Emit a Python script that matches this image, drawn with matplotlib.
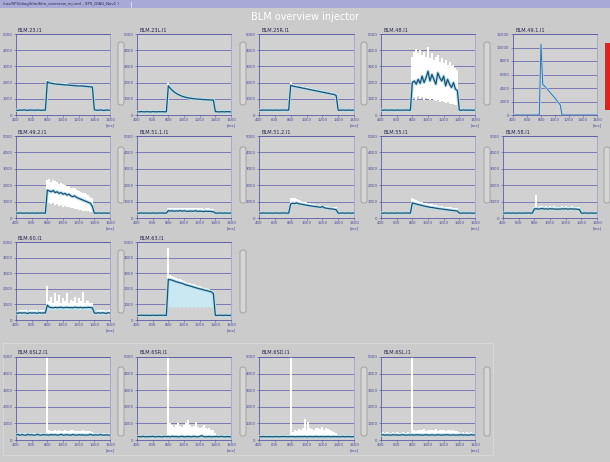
import matplotlib
matplotlib.use('Agg')
import matplotlib.pyplot as plt
from matplotlib.patches import FancyBboxPatch, Rectangle

# ---------------- data ----------------
TIME_MS = list(range(400, 1601, 25))          # sample times (49 points)
X_TICKS = [400, 600, 800, 1000, 1200, 1400, 1600]
Y_TICKS = [0, 1000, 2000, 3000, 4000, 5000]
Y_TICKS_BIG = [0, 2000, 4000, 6000, 8000, 10000, 12000]

PRE_300 = [300, 290, 310, 300, 295, 305, 300, 290, 310, 300, 295, 305, 300, 310, 295, 300]
POST_300 = [300, 290, 310, 300, 295, 305, 300, 290, 310]
PRE_380 = [380, 370, 390, 380, 375, 385, 380, 370, 390, 380, 375, 385, 380, 390, 375, 380]
POST_380 = [380, 370, 390, 380, 375, 385, 380, 370, 390]
PRE_250 = [250, 260, 240, 250, 255, 245, 250, 260, 240, 250, 255, 245, 250, 260, 240, 250]
POST_250 = [250, 260, 240, 250, 255, 245, 250, 260, 240]

MEAN_23 = [300, 280, 310, 290, 320, 300, 285, 310, 295, 305, 290, 315, 300, 285, 305, 300] + \
    [2050, 1980, 1960, 1930, 1920, 1900, 1890, 1880, 1870, 1850, 1860, 1840, 1830, 1820, 1810,
     1800, 1790, 1800, 1780, 1770, 1760, 1750, 1740, 1730] + [320, 300, 290, 310, 300, 280, 310, 300, 290]
HI_23 = [380, 360, 390, 370, 400, 380, 370, 390, 375, 385, 370, 395, 380, 365, 385, 380] + \
    [2150, 2080, 2060, 2030, 2020, 2000, 1990, 1980, 1970, 1950, 1960, 1940, 1930, 1920, 1910,
     1900, 1890, 1900, 1880, 1870, 1860, 1850, 1840, 1830] + [400, 380, 370, 390, 380, 360, 390, 380, 370]

MEAN_23L = [200, 190, 210, 200, 195, 205, 200, 190, 210, 200, 195, 205, 200, 210, 195, 200] + \
    [1800, 1650, 1520, 1420, 1340, 1270, 1210, 1160, 1120, 1090, 1060, 1040, 1020, 1000, 990,
     980, 970, 960, 950, 950, 940, 930, 930, 920] + [210, 200, 190, 205, 200, 195, 210, 200, 195]
HI_23L = [270, 260, 280, 270, 265, 275, 270, 260, 280, 270, 265, 275, 270, 280, 265, 270] + \
    [1950, 1760, 1610, 1500, 1420, 1350, 1290, 1240, 1200, 1170, 1140, 1120, 1100, 1080, 1070,
     1060, 1050, 1040, 1030, 1030, 1020, 1010, 1010, 1000] + [280, 270, 260, 275, 270, 265, 280, 270, 265]

MEAN_25R = PRE_300 + \
    [1830, 1790, 1760, 1740, 1710, 1690, 1660, 1640, 1610, 1590, 1560, 1540, 1510, 1490, 1460,
     1440, 1410, 1390, 1360, 1340, 1310, 1290, 1260, 1200] + POST_300
HI_25R = PRE_380 + \
    [2050, 1900, 1870, 1850, 1820, 1800, 1770, 1750, 1720, 1700, 1670, 1650, 1620, 1600, 1570,
     1550, 1520, 1500, 1470, 1450, 1420, 1400, 1370, 1300] + POST_380

MEAN_48 = PRE_300 + \
    [2000, 2100, 1900, 2200, 1950, 2400, 2000, 2300, 2700, 2100, 2500, 2200, 1900, 2600, 2300,
     2100, 2400, 1800, 2200, 1900, 1700, 2000, 1600, 1500] + POST_300
HI_48 = PRE_380 + \
    [3600, 3900, 4100, 3800, 4000, 3700, 3900, 3600, 4200, 3500, 3800, 3400, 3600, 3700, 3300,
     3500, 3200, 3400, 3100, 3300, 3000, 3100, 2900, 2800] + POST_380
LO_48 = PRE_250 + \
    [1000, 1100, 900, 1200, 1000, 1100, 950, 1050, 1000, 900, 1000, 950, 850, 900, 800,
     850, 800, 750, 800, 700, 650, 700, 600, 600] + POST_250

MEAN_491 = [0, 0, 0, 0, 0, 0, 0, 0, 0, 0, 0, 0, 0, 0, 0, 0] + [10500] + \
    [4500, 4300, 4000, 3700, 3400, 3100, 2800, 2500, 2150, 1800, 1500] + [0] + \
    [0, 0, 0, 0, 0, 0, 0, 0, 0, 0, 0, 0, 0, 0, 0, 0, 0, 0, 0, 0]

MEAN_492 = PRE_300 + \
    [1700, 1650, 1600, 1680, 1550, 1600, 1500, 1550, 1450, 1500, 1400, 1450, 1350, 1300, 1350,
     1250, 1200, 1150, 1100, 1050, 1000, 950, 900, 700] + POST_300
HI_492 = PRE_380 + \
    [2300, 2400, 2200, 2300, 2250, 2200, 2100, 2150, 2050, 2000, 1950, 1950, 1850, 1800, 1800,
     1700, 1650, 1600, 1550, 1500, 1450, 1400, 1300, 1200] + POST_380
LO_492 = PRE_250 + \
    [900, 900, 850, 900, 800, 850, 750, 800, 700, 750, 650, 700, 600, 600, 550,
     550, 500, 500, 450, 450, 400, 400, 350, 350] + POST_250

MEAN_511 = PRE_300 + \
    [450, 420, 440, 410, 430, 420, 450, 410, 440, 420, 400, 430, 410, 420, 440,
     400, 420, 410, 390, 420, 400, 410, 390, 380] + POST_300
HI_511 = PRE_380 + \
    [620, 600, 640, 580, 620, 600, 630, 590, 610, 600, 580, 610, 590, 600, 620,
     580, 600, 590, 570, 600, 580, 590, 570, 560] + POST_380

MEAN_512 = PRE_300 + \
    [850, 900, 880, 920, 870, 850, 830, 800, 780, 760, 740, 720, 700, 690, 670,
     650, 700, 620, 600, 580, 560, 550, 530, 500] + POST_300
HI_512 = PRE_380 + \
    [1250, 1250, 1200, 1150, 1100, 1050, 1000, 950, 950, 900, 900, 850, 850, 800, 800,
     780, 800, 760, 740, 720, 700, 690, 680, 650] + POST_380

MEAN_55 = PRE_300 + \
    [920, 880, 850, 820, 790, 760, 730, 700, 680, 650, 640, 620, 600, 580, 560,
     550, 530, 510, 500, 480, 470, 450, 440, 420] + POST_300
HI_55 = PRE_380 + \
    [1200, 1150, 1100, 1050, 1000, 950, 920, 900, 880, 850, 830, 800, 780, 760, 740,
     720, 700, 690, 680, 660, 650, 640, 620, 600] + POST_380

MEAN_58 = PRE_300 + \
    [550, 570, 540, 560, 580, 550, 560, 540, 570, 550, 560, 530, 550, 540, 560,
     550, 570, 540, 550, 560, 540, 550, 530, 520] + POST_300
HI_58 = PRE_380 + \
    [700, 1400, 690, 740, 730, 700, 710, 690, 720, 700, 710, 680, 700, 690, 710,
     700, 720, 690, 700, 710, 690, 700, 680, 670] + POST_380

MEAN_60 = [450, 430, 470, 440, 460, 450, 420, 470, 440, 460, 450, 430, 470, 440, 460, 450] + \
    [950, 820, 800, 780, 810, 790, 800, 820, 780, 800, 810, 790, 800, 780, 820,
     800, 790, 810, 780, 800, 790, 810, 800, 780] + [450, 430, 470, 440, 460, 450, 420, 470, 440]
HI_60 = [620, 600, 640, 610, 630, 620, 600, 640, 610, 630, 620, 600, 640, 610, 630, 620] + \
    [2200, 1200, 1500, 1100, 1700, 1200, 1600, 1100, 1400, 1200, 1700, 1100, 1300, 1200, 1500,
     1100, 1400, 1200, 1800, 1100, 1300, 1200, 1100, 1100] + [620, 600, 640, 610, 630, 620, 600, 640, 610]
LO_60 = [340, 330, 350, 340, 345, 335, 340, 350, 330, 340, 345, 335, 340, 350, 330, 340] + \
    [650, 660, 640, 650, 655, 645, 650, 660, 640, 650, 655, 645, 650, 660, 640,
     650, 655, 645, 650, 660, 640, 650, 655, 645] + [340, 330, 350, 340, 345, 335, 340, 350, 330]

MEAN_63 = PRE_300 + \
    [2600, 2580, 2550, 2500, 2450, 2420, 2380, 2350, 2300, 2250, 2220, 2180, 2150, 2100, 2070,
     2030, 2000, 1970, 1930, 1900, 1870, 1830, 1800, 1700] + POST_300
HI_63 = PRE_380 + \
    [4600, 2900, 2800, 2750, 2700, 2650, 2600, 2550, 2500, 2450, 2400, 2360, 2320, 2280, 2240,
     2200, 2160, 2120, 2080, 2040, 2000, 1960, 1920, 1850] + POST_380
LO_63 = PRE_250 + \
    [800, 850, 800, 850, 800, 850, 800, 850, 800, 850, 800, 850, 800, 850, 800,
     850, 800, 850, 800, 850, 800, 850, 800, 850] + POST_250

MEAN_6SL2 = [300, 340, 280, 330, 300, 290, 340, 300, 320, 290, 300, 340, 300, 290, 330, 300] + \
    [310, 290, 330, 300, 320, 290, 300, 340, 290, 300, 320, 300, 290, 330, 300,
     290, 320, 300, 310, 290, 300, 300, 340, 290] + [300, 310, 290, 330, 300, 290, 310, 300, 290]
HI_6SL2 = [430, 450, 420, 440, 430, 420, 450, 430, 440, 420, 430, 450, 430, 420, 440, 430] + \
    [5000, 600, 520, 560, 620, 540, 580, 520, 560, 600, 540, 520, 580, 600, 550,
     520, 560, 540, 580, 540, 520, 550, 520, 500] + [440, 430, 450, 420, 440, 430, 450, 420, 430]

MEAN_6SR = [200, 210, 190, 220, 200, 190, 210, 200, 220, 190, 200, 210, 200, 190, 220, 200] + \
    [210, 190, 220, 200, 210, 190, 200, 220, 190, 200, 210, 200, 190, 220, 200,
     190, 210, 260, 200, 190, 200, 210, 190, 200] + [200, 210, 190, 220, 200, 190, 210, 200, 190]
HI_6SR = [280, 290, 270, 300, 280, 270, 290, 280, 300, 270, 280, 290, 280, 270, 300, 280] + \
    [5000, 1000, 900, 800, 900, 1000, 850, 800, 900, 1000, 1200, 900, 800, 850, 1100,
     800, 750, 800, 900, 700, 650, 700, 600, 600] + [400, 320, 300, 330, 310, 290, 310, 300, 290]

MEAN_6SD = [200, 190, 210, 200, 195, 205, 200, 190, 210, 200, 195, 205, 200, 210, 195, 200] + \
    [200, 210, 190, 200, 205, 195, 200, 210, 190, 200, 205, 195, 200, 210, 190,
     200, 205, 195, 200, 210, 190, 200, 205, 195] + [200, 190, 210, 200, 195, 205, 200, 190, 210]
HI_6SD = [280, 270, 290, 280, 275, 285, 280, 270, 290, 280, 275, 285, 280, 290, 275, 280] + \
    [5000, 500, 600, 550, 650, 600, 700, 1250, 600, 1100, 700, 650, 600, 750, 700,
     650, 800, 600, 700, 650, 600, 550, 500, 450] + [300, 290, 310, 300, 295, 305, 300, 290, 310]

MEAN_6SL = [300, 320, 290, 310, 300, 290, 320, 300, 310, 290, 300, 320, 300, 290, 310, 300] + \
    [310, 290, 320, 300, 310, 290, 300, 320, 290, 300, 310, 300, 290, 320, 300,
     290, 310, 300, 320, 290, 300, 310, 290, 300] + [300, 320, 290, 310, 300, 290, 320, 300, 310]
HI_6SL = [450, 470, 440, 460, 450, 440, 470, 450, 460, 440, 450, 470, 450, 440, 460, 450] + \
    [5000, 600, 550, 620, 580, 600, 650, 560, 600, 620, 580, 600, 640, 560, 600,
     580, 620, 560, 600, 580, 560, 600, 550, 520] + [460, 450, 470, 440, 460, 450, 470, 440, 450]

# name, row, col, mean, hi, lo, lower fill colour
PANELS = [
    ("BLM.23.I1", 0, 0, MEAN_23, HI_23, None, None),
    ("BLM.23L.I1", 0, 1, MEAN_23L, HI_23L, None, None),
    ("BLM.25R.I1", 0, 2, MEAN_25R, HI_25R, None, None),
    ("BLM.48.I1", 0, 3, MEAN_48, HI_48, LO_48, "white"),
    ("BLM.49.1.I1", 0, 4, MEAN_491, None, None, None),
    ("BLM.49.2.I1", 1, 0, MEAN_492, HI_492, LO_492, "white"),
    ("BLM.51.1.I1", 1, 1, MEAN_511, HI_511, None, None),
    ("BLM.51.2.I1", 1, 2, MEAN_512, HI_512, None, None),
    ("BLM.55.I1", 1, 3, MEAN_55, HI_55, None, None),
    ("BLM.58.I1", 1, 4, MEAN_58, HI_58, None, None),
    ("BLM.60.I1", 2, 0, MEAN_60, HI_60, LO_60, "#c6e6f0"),
    ("BLM.63.I1", 2, 1, MEAN_63, HI_63, LO_63, "#cae8f1"),
    ("BLM.6SL2.I1", 3, 0, MEAN_6SL2, HI_6SL2, None, None),
    ("BLM.6SR.I1", 3, 1, MEAN_6SR, HI_6SR, None, None),
    ("BLM.6SD.I1", 3, 2, MEAN_6SD, HI_6SD, None, None),
    ("BLM.6SL.I1", 3, 3, MEAN_6SL, HI_6SL, None, None),
]

# ---------------- layout (pixels) ----------------
W, H = 610, 462
COL_X = [(16, 110), (137, 231), (259, 354), (381, 475), (503, 597)]
ROW_Y = [(34, 115), (136, 218), (242, 320), (357, 440)]
GAUGE_X = [118, 240, 361, 484, 604]
GAUGE_Y = [(42, 105), (147, 203), (250, 313), (367, 436)]

BG = '#cbcbcb'
AX_BG = '#d1d1d1'
PURPLE = '#7a79b6'
TICK_C = '#4b4a9c'

fig = plt.figure(figsize=(W / 100, H / 100), dpi=100)
fig.patch.set_facecolor(BG)

ov = fig.add_axes([0, 0, 1, 1], zorder=0)
ov.set_xlim(0, W)
ov.set_ylim(H, 0)
ov.axis('off')

# window/title bar
ov.add_patch(Rectangle((0, 0), W, 8, facecolor='#a8aad6', edgecolor='none'))
ov.text(3, 4.2, "/usr/SPS/diag/blm/blm_overview_inj.xml - SPS_DIAG_Nav1 )", fontsize=2.8,
        color='#2a2a4a', va='center', ha='left')
ov.plot([131, 131], [1.5, 6.5], color='#f0f0f0', lw=0.5)
ov.text(305, 17, "BLM overview injector", fontsize=7, color='white', ha='center', va='center')

# bottom group box
ov.add_patch(Rectangle((3, 343), 490, 112, facecolor='none', edgecolor='#dadada', lw=0.6))

# red alarm bar
ov.add_patch(Rectangle((605, 43), 6, 67, facecolor='#e0221f', edgecolor='none'))

# gauges
gauges = [(0, c) for c in range(4)] + [(1, c) for c in range(5)] + [(2, 0), (2, 1)] + [(3, c) for c in range(4)]
for r, c in gauges:
    y0, y1 = GAUGE_Y[r]
    ov.add_patch(FancyBboxPatch((GAUGE_X[c], y0), 6, y1 - y0,
                                boxstyle='round,pad=0,rounding_size=2.5',
                                facecolor='#d6d6d6', edgecolor='#9c9c9c', lw=0.6))


def add_panel(name, r, c, mean, hi, lo, lower_color):
    x0, x1 = COL_X[c]
    y0, y1 = ROW_Y[r]
    big = hi is None
    if big:
        x0 = 513
    ax = fig.add_axes([x0 / W, 1 - y1 / H, (x1 - x0) / W, (y1 - y0) / H], zorder=2)
    ax.set_facecolor(AX_BG)
    ymax = 12000 if big else 5000
    yt = Y_TICKS_BIG if big else Y_TICKS
    ax.set_xlim(400, 1600)
    ax.set_ylim(0, ymax)
    ax.set_yticks(yt)
    ax.set_yticklabels([str(v) for v in yt])
    ax.set_xticks(X_TICKS)
    ax.set_xticklabels([str(v) for v in X_TICKS[:-1]] + [str(X_TICKS[-1]) + "\n[ms]"])
    ax.tick_params(labelsize=2.8, colors=TICK_C, length=1.5, width=0.4, pad=1)
    for s in ax.spines.values():
        s.set_color('#5d5ca4')
        s.set_linewidth(0.6)
    ax.spines['right'].set_color('#a4a4cc')
    ax.grid(axis='y', color=PURPLE, lw=0.7)
    ax.set_axisbelow(True)

    if big:
        ax.plot(TIME_MS, mean, color='#b8dcee', lw=1.8, zorder=3)
        ax.plot(TIME_MS, mean, color='#3a70a0', lw=0.7, zorder=4)
    else:
        ax.fill_between(TIME_MS, mean, hi, color='white', lw=0, step='mid', zorder=2)
        if lo is not None:
            ax.fill_between(TIME_MS, lo, mean, color=lower_color, lw=0, step='mid', zorder=2)
        ax.plot(TIME_MS, mean, color='#b3e0ee', lw=2.3, zorder=3)
        ax.plot(TIME_MS, mean, color='#1d4f6e', lw=0.9, zorder=4)

    ov.text(x0 + 2, y0 - 4, name, fontsize=3.6, color='#22224a', ha='left', va='center')


for p in PANELS:
    add_panel(*p)

fig.savefig('out.png', dpi=100, facecolor=BG)
